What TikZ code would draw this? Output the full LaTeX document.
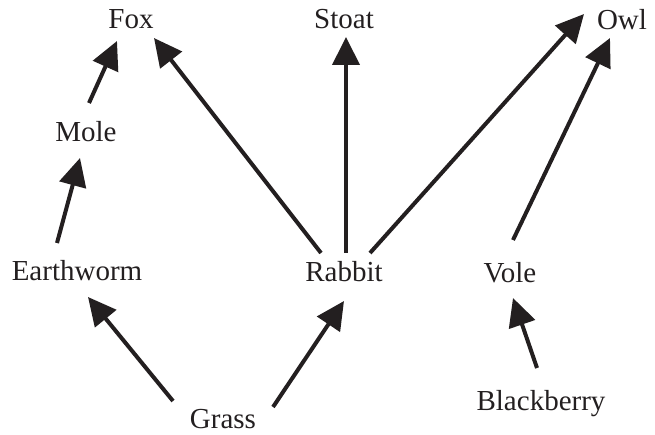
\documentclass[tikz,border=0pt]{standalone}
\usepackage{fontspec}
\setmainfont{Liberation Serif}
\usetikzlibrary{arrows.meta,calc}
\definecolor{ink}{HTML}{231F20}
\begin{document}
\begin{tikzpicture}[x=1pt,y=-1pt,
  lbl/.style={anchor=base,inner sep=0pt,text=ink,font=\fontsize{29}{34}\selectfont},
  arr/.style={draw=ink,line width=4pt,-{Triangle[length=28pt,width=27pt]}}]
\useasboundingbox (0,0) rectangle (655,435);
\node[lbl] (fox) at (131,29) {Fox};
\node[lbl] (stoat) at (344,29) {Stoat};
\node[lbl] (owl) at (622,30) {Owl};
\node[lbl] (mole) at (86,142) {Mole};
\node[lbl] (earthworm) at (77,280) {Earthworm};
\node[lbl] (rabbit) at (344,281) {Rabbit};
\node[lbl] (vole) at (510,283) {Vole};
\node[lbl] (grass) at (223,428) {Grass};
\node[lbl] (blackberry) at (541,410) {Blackberry};
\draw[arr] ($(mole.base)+(3,-39)$) -- ($(fox.base)+(-14,12)$);
\draw[arr] ($(earthworm.base)+(-20,-37)$) -- ($(mole.base)+(-6,16)$);
\draw[arr] ($(rabbit.base)+(-23,-28)$) -- ($(fox.base)+(23,9)$);
\draw[arr] ($(rabbit.base)+(2,-28)$) -- ($(stoat.base)+(2,8)$);
\draw[arr] ($(rabbit.base)+(26,-28)$) -- ($(owl.base)+(-38,-16)$);
\draw[arr] ($(vole.base)+(3,-43)$) -- ($(owl.base)+(-12,8)$);
\draw[arr] ($(grass.base)+(-50,-27)$) -- ($(earthworm.base)+(11,17)$);
\draw[arr] ($(grass.base)+(50,-21)$) -- ($(rabbit.base)+(0,20)$);
\draw[arr] ($(blackberry.base)+(-4,-42)$) -- ($(vole.base)+(3,15)$);
\end{tikzpicture}
\end{document}
